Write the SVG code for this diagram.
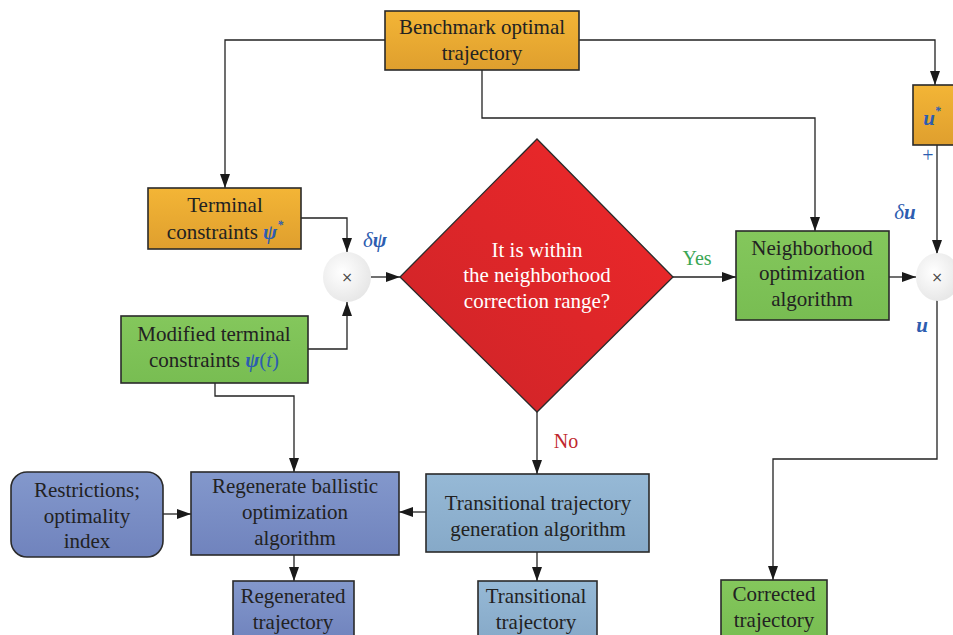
<svg xmlns="http://www.w3.org/2000/svg" width="953" height="635" viewBox="0 0 953 635">
<defs>
<linearGradient id="gOr" x1="0" y1="0" x2="0" y2="1"><stop offset="0" stop-color="#f3b536"/><stop offset="1" stop-color="#df9f2e"/></linearGradient>
<linearGradient id="gGr" x1="0" y1="0" x2="0" y2="1"><stop offset="0" stop-color="#84c75c"/><stop offset="1" stop-color="#78bd52"/></linearGradient>
<linearGradient id="gPu" x1="0" y1="0" x2="0" y2="1"><stop offset="0" stop-color="#8398cc"/><stop offset="1" stop-color="#7083bd"/></linearGradient>
<linearGradient id="gBl" x1="0" y1="0" x2="0" y2="1"><stop offset="0" stop-color="#96b9d6"/><stop offset="1" stop-color="#86a9c8"/></linearGradient>
<linearGradient id="gRd" x1="1" y1="0" x2="0" y2="1"><stop offset="0" stop-color="#f0282a"/><stop offset="1" stop-color="#cc2428"/></linearGradient>
<radialGradient id="gCi" cx="0.4" cy="0.4" r="0.7"><stop offset="0" stop-color="#ffffff"/><stop offset="1" stop-color="#e4e4e4"/></radialGradient>
<marker id="ar" viewBox="0 0 14 10" refX="14" refY="5" markerWidth="14" markerHeight="10" markerUnits="userSpaceOnUse" orient="auto"><path d="M0,0 L14,5 L0,10 z" fill="#1a1a1a"/></marker>
</defs>
<style>
.bx{stroke:#2a2a2a;stroke-width:1.6}
.t{font-family:"Liberation Serif","Times New Roman",serif;font-size:21px;fill:#222;text-anchor:middle}
.w{fill:#ffffff}
.m{font-family:"Liberation Serif","Times New Roman",serif;font-weight:bold;font-style:italic;fill:#2d5db0}
.ca{fill:none;stroke:#222;stroke-width:1.3;marker-end:url(#ar)}
</style>
<rect width="953" height="635" fill="#ffffff"/>
<g id="connectors">
<path class="ca" d="M385,40 H225 V188"/>
<path class="ca" d="M579,40 H935 V85"/>
<path class="ca" d="M482,70 V118 H815 V231"/>
<path class="ca" d="M301,218 H347 V252"/>
<path class="ca" d="M308,349 H347 V302"/>
<path class="ca" d="M371,277 H400"/>
<path class="ca" d="M673,277 H736"/>
<path class="ca" d="M889,277 H916"/>
<path class="ca" d="M937,145 V254"/>
<path class="ca" d="M937,300 V459 H773 V580"/>
<path class="ca" d="M537,412 V474"/>
<path class="ca" d="M215,383 V396 H294 V472"/>
<path class="ca" d="M426,512 H399"/>
<path class="ca" d="M163,514 H191"/>
<path class="ca" d="M294,555 V581"/>
<path class="ca" d="M537,552 V581"/>
<text x="697" y="265" font-family="Liberation Serif,serif" font-size="20" fill="#3aa654" text-anchor="middle">Yes</text>
<text x="566" y="448" font-family="Liberation Serif,serif" font-size="20" fill="#c0272d" text-anchor="middle">No</text>
<text class="m" x="375" y="247" font-size="21" text-anchor="middle"><tspan font-weight="normal" font-style="italic">δ</tspan>ψ</text>
<text class="m" x="905" y="219" font-size="21" text-anchor="middle"><tspan font-weight="normal" font-style="italic">δ</tspan>u</text>
<text class="m" x="922" y="332" font-size="21" text-anchor="middle">u</text>
<text x="928" y="162" font-family="Liberation Serif,serif" font-size="20" fill="#2d5db0" text-anchor="middle">+</text>
</g>
<g id="benchmark">
<rect class="bx" x="385" y="11" width="194" height="59" fill="url(#gOr)"/>
<text class="t" x="482" y="34">Benchmark optimal</text>
<text class="t" x="482" y="60">trajectory</text>
</g>
<g id="ustar">
<rect class="bx" x="913" y="85" width="44" height="60" fill="url(#gOr)"/>
<text class="m" x="932" y="125" font-size="21" text-anchor="middle">u<tspan font-size="12" dy="-10">*</tspan></text>
</g>
<g id="terminal">
<rect class="bx" x="148" y="188" width="153" height="61" fill="url(#gOr)"/>
<text class="t" x="225" y="212">Terminal</text>
<text class="t" x="225" y="239">constraints <tspan class="m">ψ</tspan><tspan class="m" font-size="12" dy="-10">*</tspan></text>
</g>
<g id="sum1">
<ellipse cx="347" cy="277" rx="24" ry="25" fill="url(#gCi)"/>
<text x="347" y="282" font-family="DejaVu Sans,sans-serif" font-size="14" fill="#444" text-anchor="middle">×</text>
</g>
<g id="modified">
<rect class="bx" x="121" y="316" width="187" height="67" fill="url(#gGr)"/>
<text class="t" x="214" y="341">Modified terminal</text>
<text class="t" x="214" y="367">constraints <tspan class="m">ψ</tspan><tspan fill="#2d5db0">(</tspan><tspan fill="#2d5db0" font-style="italic">t</tspan><tspan fill="#2d5db0">)</tspan></text>
</g>
<g id="decision">
<polygon points="537,139 673,277 537,412 400,277" fill="url(#gRd)" stroke="#2a2a2a" stroke-width="1.3"/>
<text class="t w" x="537" y="257">It is within</text>
<text class="t w" x="537" y="282">the neighborhood</text>
<text class="t w" x="537" y="308">correction range?</text>
</g>
<g id="neighborhood">
<rect class="bx" x="736" y="231" width="153" height="89" fill="url(#gGr)"/>
<text class="t" x="812" y="255">Neighborhood</text>
<text class="t" x="812" y="280">optimization</text>
<text class="t" x="812" y="306">algorithm</text>
</g>
<g id="sum2">
<ellipse cx="938" cy="277" rx="22" ry="24" fill="url(#gCi)"/>
<text x="937" y="282" font-family="DejaVu Sans,sans-serif" font-size="14" fill="#444" text-anchor="middle">×</text>
</g>
<g id="restrictions">
<rect class="bx" x="11" y="472" width="152" height="85" rx="16" fill="url(#gPu)"/>
<text class="t" x="87" y="497">Restrictions;</text>
<text class="t" x="87" y="523">optimality</text>
<text class="t" x="87" y="548">index</text>
</g>
<g id="regenerate">
<rect class="bx" x="191" y="472" width="208" height="83" fill="url(#gPu)"/>
<text class="t" x="295" y="493">Regenerate ballistic</text>
<text class="t" x="295" y="519">optimization</text>
<text class="t" x="295" y="545">algorithm</text>
</g>
<g id="transgen">
<rect class="bx" x="426" y="474" width="223" height="78" fill="url(#gBl)"/>
<text class="t" x="538" y="510">Transitional trajectory</text>
<text class="t" x="538" y="536">generation algorithm</text>
</g>
<g id="regenerated">
<rect class="bx" x="233" y="581" width="121" height="60" fill="url(#gPu)"/>
<text class="t" x="293" y="603">Regenerated</text>
<text class="t" x="293" y="629">trajectory</text>
</g>
<g id="transitional">
<rect class="bx" x="478" y="581" width="119" height="60" fill="url(#gBl)"/>
<text class="t" x="536" y="603">Transitional</text>
<text class="t" x="536" y="629">trajectory</text>
</g>
<g id="corrected">
<rect class="bx" x="721" y="580" width="106" height="60" fill="url(#gGr)"/>
<text class="t" x="774" y="601">Corrected</text>
<text class="t" x="774" y="627">trajectory</text>
</g>
</svg>
